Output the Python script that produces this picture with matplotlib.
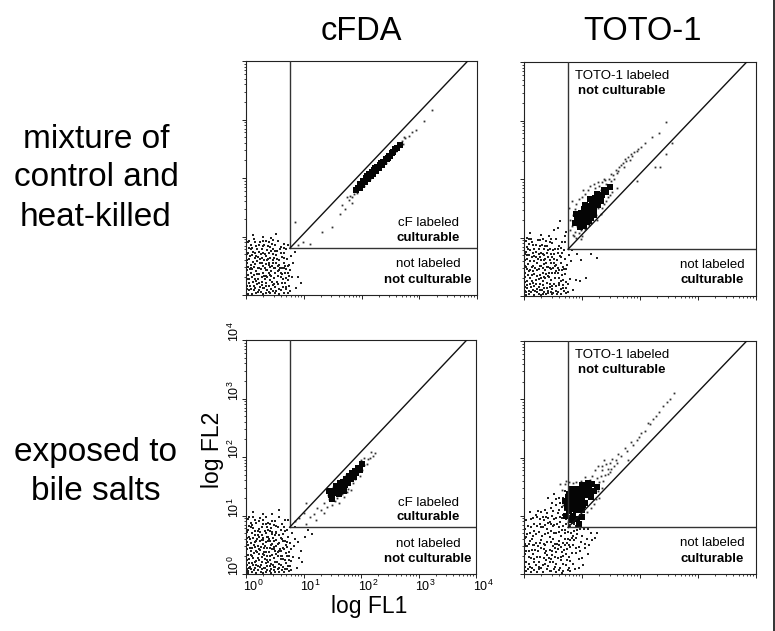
import matplotlib
matplotlib.use("Agg")
import matplotlib.pyplot as plt
import numpy as np
from matplotlib.ticker import LogLocator, NullFormatter
from matplotlib.transforms import ScaledTranslation

plt.rcParams['font.family'] = ['Liberation Sans', 'DejaVu Sans']
plt.rcParams['mathtext.fontset'] = 'custom'
plt.rcParams['mathtext.rm'] = 'Liberation Sans'
plt.rcParams['mathtext.default'] = 'rm'

W, H = 775, 631

# All scatter values are log10(fluorescence).
gate_x, gate_y = 0.76, 0.80
diag_end_x, diag_end_y = 3.84, 4.0

cloud_a = [(.05,.08),(.12,.22),(.03,.35),(.2,.05),(.18,.41),(.08,.52),(.27,.17),(.31,.33),(.15,.63),(.04,.72),
(.24,.55),(.36,.08),(.41,.25),(.33,.47),(.09,.86),(.22,.74),(.44,.41),(.38,.62),(.5,.13),(.47,.55),
(.29,.83),(.55,.32),(.52,.69),(.13,.96),(.6,.08),(.62,.46),(.36,.77),(.58,.6),(.68,.2),(.66,.72),
(.45,.88),(.72,.38),(.02,.15),(.07,.44),(.11,.3),(.16,.12),(.21,.28),(.26,.44),(.3,.02),(.34,.2),
(.39,.37),(.43,.1),(.48,.29),(.51,.46),(.56,.18),(.61,.3),(.65,.55),(.7,.1),(.75,.52),(.8,.3),
(.02,.6),(.06,.27),(.1,.68),(.14,.48),(.19,.58),(.23,.36),(.28,.64),(.32,.12),(.35,.53),(.4,.71),
(.42,.48),(.46,.17),(.49,.64),(.54,.76),(.57,.42),(.63,.65),(.67,.37),(.71,.62),(.74,.16),(.78,.66),
(.03,.9),(.08,.78),(.17,.84),(.25,.9),(.34,.93),(.41,.82),(.5,.85),(.56,.92),(.61,.82),(.66,.88),
(.12,1.03),(.3,1.0),(.44,.98),(.52,1.04),(.72,.86),(.82,.55),(.86,.12),(.9,.3),(.84,.74),(.95,.2),
(.05,.2),(.09,.1),(.14,.35),(.17,.24),(.2,.47),(.24,.13),(.27,.3),(.3,.5),(.33,.27),(.37,.43),
(.4,.15),(.44,.33),(.47,.07),(.5,.38),(.53,.22),(.57,.52),(.6,.38),(.64,.13),(.68,.49),(.73,.25),
(.06,.62),(.11,.44),(.16,.72),(.21,.65),(.26,.7),(.31,.6),(.35,.67),(.39,.55),(.43,.75),(.48,.47),
(.03,.02),(.1,.02),(.18,.03),(.26,.05),(.34,.03),(.42,.04),(.5,.03),(.58,.02),(.65,.04),(.73,.04),
(.04,.48),(.13,.16),(.19,.36),(.28,.22),(.37,.3),(.46,.6),(.55,.5),(.64,.27),(.7,.45),(.77,.42),
(.01,.11),(.07,.16),(.13,.09),(.19,.19),(.23,.08),(.29,.12),(.35,.16),(.4,.05),(.45,.22),(.52,.06),
(.57,.11),(.63,.2),(.69,.14),(.76,.07),(.01,.27),(.08,.38),(.15,.27),(.22,.21),(.29,.38),(.35,.33),
(.42,.35),(.49,.18),(.55,.41),(.62,.36),(.69,.29),(.75,.33),(.01,.43),(.09,.46),(.16,.53),(.23,.47),
(.28,.55),(.34,.42),(.4,.52),(.45,.5),(.52,.55),(.59,.47),(.66,.46),(.72,.5),(.01,.55),(.07,.66),
(.12,.57),(.18,.66),(.24,.62),(.3,.72),(.36,.6),(.42,.64),(.47,.7),(.53,.62),(.6,.72),(.65,.64),
(.01,.7),(.06,.8),(.12,.74),(.19,.78),(.27,.78),(.33,.7),(.38,.84),(.46,.78),(.51,.76),(.59,.78),
(.05,.93),(.15,.91),(.22,.86),(.29,.92),(.39,.9),(.47,.94),(.65,.8),(.7,.78),(.1,.8),(.32,.85)]
sparse_a = [(.85,1.25),(1.31,1.08),(1.49,1.17),(1.1,.88),(1.66,1.54),(1.62,1.38),(1.72,1.47),(1.78,1.62),(1.83,1.58),(1.75,1.68),
(1.87,1.73),(1.8,1.7),(2.7,2.63),(2.76,2.68),(2.82,2.72),(2.88,2.78),(2.94,2.82),(3.08,2.97),(3.22,3.16),(.9,.85),(.98,.9),
(1.84,1.68),(1.88,1.82),(1.92,1.74),(1.96,1.88),(2.04,1.86),(2.08,2.05),(2.14,1.99),(2.2,2.14),(2.27,2.11),(2.36,2.31),(2.43,2.26),(2.5,2.45),(2.6,2.46),(2.68,2.6),(2.72,2.58),(2.74,2.7)]
core_a = [(1.9,1.8),(1.94,1.83),(1.97,1.9),(2.0,1.88),(2.03,1.95),(2.06,1.93),(2.08,2.0),(2.11,1.98),(2.13,2.06),(2.16,2.03),
(2.18,2.1),(2.2,2.07),(2.22,2.14),(2.25,2.12),(2.27,2.18),(2.3,2.17),(2.32,2.23),(2.35,2.22),(2.37,2.28),(2.39,2.27),
(2.42,2.33),(2.44,2.32),(2.47,2.38),(2.5,2.38),(2.52,2.43),(2.55,2.44),(2.58,2.49),(2.62,2.52),(2.66,2.57),(1.98,1.83),(2.1,2.03),(2.24,2.17),(2.34,2.26),(2.46,2.35)]

cloud_b = [(.04,.06),(.1,.2),(.02,.33),(.19,.08),(.16,.42),(.07,.55),(.25,.15),(.3,.31),(.13,.66),(.04,.76),
(.23,.56),(.35,.06),(.4,.23),(.32,.48),(.08,.89),(.21,.76),(.43,.4),(.37,.64),(.49,.12),(.46,.56),
(.28,.86),(.54,.3),(.51,.71),(.12,.98),(.59,.07),(.61,.45),(.35,.8),(.57,.62),(.67,.18),(.65,.74),
(.44,.92),(.71,.37),(.02,.16),(.06,.46),(.1,.31),(.15,.11),(.2,.27),(.25,.46),(.29,.02),(.33,.19),
(.38,.38),(.42,.09),(.47,.28),(.5,.48),(.55,.17),(.6,.31),(.64,.57),(.69,.09),(.74,.53),(.79,.29),
(.02,.62),(.05,.26),(.09,.7),(.13,.5),(.18,.6),(.22,.35),(.27,.67),(.31,.11),(.34,.55),(.39,.73),
(.41,.5),(.45,.16),(.48,.66),(.53,.8),(.56,.43),(.62,.68),(.66,.36),(.7,.64),(.73,.14),(.77,.7),
(.03,.94),(.07,.8),(.16,.87),(.24,.95),(.33,.98),(.4,.86),(.49,.9),(.55,.98),(.6,.86),(.65,.93),
(.11,1.08),(.29,1.05),(.43,1.03),(.51,1.12),(.71,.92),(.81,.6),(.85,.1),(.89,.27),(.83,.78),(.96,.25),
(.05,.18),(.08,.09),(.13,.36),(.16,.23),(.19,.48),(.23,.12),(.26,.29),(.29,.52),(.32,.26),(.36,.44),
(.39,.14),(.43,.32),(.46,.06),(.49,.39),(.52,.21),(.56,.53),(.59,.39),(.63,.12),(.67,.5),(.72,.24),
(.05,.64),(.1,.45),(.15,.74),(.2,.67),(.25,.72),(.3,.62),(.34,.7),(.38,.56),(.42,.78),(.47,.47),
(.03,.02),(.09,.03),(.17,.02),(.25,.04),(.33,.03),(.41,.05),(.49,.03),(.57,.04),(.64,.03),(.72,.05),
(.04,.5),(.12,.15),(.18,.37),(.27,.21),(.36,.3),(.45,.62),(.54,.51),(.63,.26),(.69,.46),(.92,.72),
(.58,1.16),(.7,1.02),(.62,1.28),(.73,1.1),(.98,.62),(1.07,.3),(1.15,.72),(1.25,.65),
(.01,.09),(.06,.13),(.12,.07),(.18,.17),(.22,.07),(.28,.1),(.34,.14),(.38,.04),(.44,.21),(.5,.05),
(.55,.09),(.61,.19),(.68,.13),(.75,.06),(.01,.24),(.07,.36),(.14,.26),(.21,.2),(.28,.36),(.34,.32),
(.41,.34),(.48,.17),(.54,.4),(.6,.22),(.68,.28),(.76,.2),(.01,.4),(.09,.42),(.15,.52),(.22,.44),
(.27,.52),(.33,.4),(.39,.5),(.44,.48),(.51,.56),(.58,.48),(.65,.44),(.72,.46),(.01,.52),(.06,.7),
(.11,.6),(.17,.68),(.24,.64),(.29,.74),(.35,.61),(.41,.66),(.46,.72),(.52,.64),(.59,.74),(.64,.66),
(.01,.72),(.05,.84),(.11,.78),(.18,.8),(.26,.8),(.32,.72),(.37,.86),(.45,.8),(.5,.78),(.58,.8),
(.05,1.0),(.14,.92),(.21,.88),(.28,.96),(.38,.94),(.47,.98),(.64,.82),(.69,.78),(.09,.98),(.31,.88)]
sparse_b = [(.78,1.5),(.82,1.2),(.85,1.38),(.88,1.1),(.92,1.2),(.8,1.3),(.9,1.0),(.95,1.08),(1.0,1.02),(.84,1.05),
(.9,1.58),(.95,1.65),(1.0,1.7),(1.05,1.75),(1.1,1.82),(1.2,1.92),(1.28,1.95),(1.33,1.82),(1.38,2.0),(1.42,1.92),
(1.46,2.0),(1.5,2.08),(1.54,2.06),(1.58,2.16),(1.6,2.1),(1.64,2.2),(1.68,2.24),(1.72,2.2),(1.76,2.3),(1.8,2.38),
(1.84,2.42),(1.9,2.46),(1.96,2.52),(2.02,2.55),(2.08,2.62),(2.2,2.72),(2.44,2.98),(2.33,2.78),(2.55,2.62),(2.44,2.42),
(2.35,2.2),(2.25,2.2),(1.95,1.97),(1.6,1.85),(1.28,1.5),(1.38,1.58),(1.45,1.7),(1.52,1.78),
(.82,1.62),(.88,1.48),(1.02,1.82),(1.14,1.88),(1.22,1.84),(1.3,1.88),(1.35,1.95),(1.4,1.98),(1.44,1.88),(1.5,1.96),
(1.56,2.0),(1.62,2.14),(1.7,2.28),(1.74,2.34),(1.82,2.32),(1.86,2.4),(1.94,2.48),(.98,1.12),(1.06,1.14),(1.12,1.22),(1.24,1.38),(1.34,1.5),(1.42,1.62),
(1.48,1.72),(1.32,1.4),(1.26,1.3),(1.15,1.24),(.8,1.12),(.86,1.02),(.98,.98)]
core_b = [(.95,1.32),(1.0,1.3),(1.05,1.38),(1.1,1.36),(.98,1.42),(1.03,1.48),(1.08,1.46),(1.13,1.44),(1.18,1.5),(1.12,1.54),
(1.18,1.6),(1.23,1.58),(1.28,1.65),(1.22,1.68),(1.3,1.72),(1.35,1.72),(1.16,1.42),(1.21,1.48),(1.27,1.55),(1.33,1.62),
(1.06,1.56),(1.0,1.22),(1.08,1.26),(1.15,1.34),(.9,1.4),(.92,1.3),(1.14,1.66),(1.25,1.74),(1.42,1.78),(1.38,1.82),(1.48,1.87),
(1.2,1.38),(.88,1.25),(.96,1.18),(1.04,1.2),(1.02,1.4),(1.07,1.33),(1.1,1.42),(1.14,1.5),(1.08,1.53),(1.2,1.55),(1.25,1.62),(.94,1.26),(1.12,1.28)]

cloud_c = [(.04,.05),(.11,.18),(.03,.32),(.2,.06),(.17,.4),(.08,.53),(.26,.16),(.31,.32),(.15,.66),(.04,.75),
(.24,.56),(.37,.07),(.42,.24),(.33,.48),(.09,.88),(.22,.77),(.45,.42),(.39,.64),(.51,.12),(.48,.56),
(.29,.85),(.56,.3),(.53,.7),(.13,.97),(.62,.07),(.64,.45),(.36,.8),(.6,.62),(.7,.18),(.68,.73),
(.46,.9),(.74,.37),(.02,.15),(.07,.45),(.11,.3),(.16,.11),(.21,.27),(.26,.46),(.3,.02),(.34,.19),
(.4,.38),(.44,.09),(.49,.28),(.52,.48),(.58,.17),(.63,.31),(.67,.57),(.72,.09),(.77,.53),(.82,.29),
(.02,.62),(.06,.26),(.1,.7),(.14,.5),(.19,.6),(.23,.35),(.28,.67),(.32,.11),(.35,.55),(.41,.73),
(.43,.5),(.47,.16),(.5,.66),(.55,.8),(.59,.43),(.65,.68),(.69,.36),(.73,.64),(.76,.14),(.8,.7),
(.03,.94),(.08,.8),(.17,.87),(.25,.95),(.34,.98),(.42,.86),(.51,.9),(.57,.97),(.63,.86),(.68,.93),
(.12,1.06),(.3,1.03),(.45,1.02),(.58,1.1),(.73,.92),(.85,.6),(.88,.1),(.92,.27),(.86,.8),(.98,.2),
(.05,.18),(.09,.09),(.14,.36),(.17,.23),(.2,.48),(.24,.12),(.27,.29),(.3,.52),(.33,.26),(.37,.44),
(.41,.14),(.45,.32),(.48,.06),(.51,.39),(.54,.21),(.58,.53),(.61,.39),(.65,.12),(.69,.5),(.75,.24),
(.05,.64),(.1,.45),(.15,.74),(.2,.67),(.25,.72),(.3,.62),(.34,.7),(.39,.56),(.44,.78),(.49,.47),
(.03,.02),(.1,.03),(.18,.02),(.26,.04),(.34,.03),(.42,.05),(.5,.03),(.58,.04),(.66,.03),(.74,.05),
(.04,.5),(.13,.15),(.19,.37),(.28,.21),(.37,.3),(.47,.62),(.56,.51),(.65,.26),(.71,.46),(.79,.42),
(.07,.12),(.12,.27),(.15,.55),(.18,.15),(.22,.43),(.27,.58),(.32,.38),(.36,.14),(.4,.6),(.44,.17),
(.48,.43),(.53,.35),(.57,.1),(.6,.25),(.66,.42),(.71,.3),(.78,.22),(.83,.48),(.9,.55),(.95,.4),(1.02,.63),(1.08,.75),(1.15,.68),
(.01,.08),(.06,.1),(.14,.06),(.21,.13),(.28,.08),(.33,.1),(.38,.2),(.43,.02),(.49,.12),(.55,.08),
(.61,.16),(.67,.09),(.73,.14),(.79,.07),(.01,.24),(.08,.33),(.15,.2),(.22,.24),(.29,.34),(.36,.24),
(.42,.31),(.5,.21),(.55,.37),(.61,.31),(.68,.24),(.74,.3),(.01,.42),(.09,.4),(.16,.46),(.24,.41),
(.31,.44),(.35,.37),(.42,.44),(.46,.52),(.52,.58),(.58,.4),(.64,.56),(.72,.54),(.01,.55),(.07,.6),
(.12,.62),(.18,.56),(.23,.64),(.29,.58),(.36,.63),(.42,.56),(.46,.68),(.52,.72),(.57,.66),(.63,.6),
(.01,.72),(.06,.82),(.13,.78),(.2,.74),(.27,.8),(.33,.74),(.38,.76),(.45,.72),(.53,.82),(.6,.76),
(.05,.98),(.15,.92),(.22,.9),(.29,.92),(.38,.88),(.48,.84),(.66,.8),(.71,.76),(.1,.84),(.34,.86)]
sparse_c = [(.85,.9),(.92,.95),(1.05,.85),(1.0,1.05),(1.12,.98),(1.18,1.02),(1.24,1.12),(1.3,1.1),(1.22,.92),(1.36,1.22),
(1.4,1.14),(1.45,1.28),(1.5,1.18),(1.55,1.25),(1.35,1.05),(1.42,1.35),(1.62,1.22),(1.7,1.32),(1.75,1.4),(1.82,1.44),
(1.95,1.75),(2.02,1.78),(2.05,1.86),(2.1,1.88),(2.12,1.96),(2.16,1.98),(2.18,2.09),(2.2,2.02),(2.24,2.06),(1.98,1.68),(1.05,1.22),
(1.45,1.42),(1.52,1.48),(1.58,1.3),(1.6,1.56),(1.67,1.36),(1.74,1.7),(1.78,1.46),(1.86,1.55),(1.9,1.62),(1.92,1.84),(2.0,1.95),(2.06,1.98),(1.68,1.62)]
core_c = [(1.48,1.35),(1.53,1.42),(1.5,1.28),(1.57,1.38),(1.6,1.45),(1.56,1.5),(1.63,1.55),(1.66,1.48),(1.69,1.58),(1.72,1.52),
(1.74,1.62),(1.77,1.56),(1.79,1.68),(1.82,1.62),(1.84,1.72),(1.87,1.66),(1.89,1.76),(1.92,1.72),(1.95,1.82),(1.98,1.78),(2.02,1.88),(1.7,1.42),(1.45,1.42),(1.62,1.36)]

cloud_d = [(.04,.05),(.12,.03),(.22,.04),(.33,.03),(.45,.05),(.55,.03),(.66,.02),(.8,.05),(.1,.12),(.2,.15),
(.03,.2),(.3,.1),(.42,.13),(.5,.2),(.62,.11),(.72,.16),(.85,.18),(.95,.1),(.08,.3),(.18,.26),
(.28,.3),(.38,.24),(.48,.33),(.58,.27),(.68,.31),(.78,.3),(.9,.36),(1.0,.28),(.04,.4),(.14,.42),
(.24,.4),(.34,.43),(.44,.41),(.54,.44),(.64,.46),(.74,.43),(.84,.5),(.94,.47),(1.06,.44),(.02,.52),
(.1,.56),(.2,.54),(.3,.58),(.4,.55),(.5,.6),(.6,.57),(.7,.6),(.8,.58),(.9,.62),(1.0,.66),
(1.08,.6),(1.16,.7),(.06,.68),(.16,.66),(.26,.72),(.36,.68),(.46,.74),(.56,.71),(.66,.76),(.76,.72),
(.86,.74),(.96,.77),(1.1,.78),(1.22,.62),(.02,.78),(.12,.8),(.22,.82),(.32,.8),(.42,.87),(.52,.84),
(.62,.9),(.72,.86),(.82,.88),(.94,.92),(.04,.92),(.16,.96),(.28,.94),(.38,.98),(.48,1.0),(.58,1.04),
(.68,1.02),(.76,1.08),(.1,1.06),(.24,1.08),(.36,1.1),(.46,1.14),(.56,1.18),(.66,1.15),(.74,1.22),(.42,1.3),
(.52,1.38),(.6,1.3),(.7,1.42),(.08,.18),(.16,.34),(.26,.2),(.36,.36),(.46,.26),(.56,.38),(.66,.38),
(.06,.48),(.13,.6),(.24,.48),(.34,.52),(.44,.63),(.54,.52),(.64,.66),(.74,.54),(.84,.66),(.18,.74),
(.3,.8),(.4,.78),(.5,.82),(.6,.8),(.7,.7),(.8,.8),(.9,.82),(.35,.92),(.45,.9),(.55,.96),
(.65,.96),(.75,.98),(.14,.1),(.26,.08),(.36,.18),(.46,.06),(.4,.32),(.5,.48),(.6,.5),(.7,.5),
(.78,.5),(.86,.58),(.98,.55),(1.05,.52),(1.12,.5),(1.18,.58),(1.26,.7),(1.02,.16),(.88,.08),(.74,.24),
(.64,.24),(.54,.12),(.68,.06),(.77,.1),(1.1,.35),(.95,.25),(.04,.64),(.15,.5),(.85,.95),(.85,1.02),
(.01,.12),(.07,.08),(.17,.07),(.25,.12),(.39,.09),(.51,.09),(.6,.07),(.75,.07),(.18,.2),(.33,.16),
(.44,.2),(.56,.17),(.67,.17),(.8,.22),(.12,.28),(.23,.3),(.34,.27),(.43,.28),(.54,.3),(.63,.3),
(.73,.34),(.83,.36),(.97,.4),(.01,.34),(.09,.39),(.19,.42),(.29,.45),(.38,.4),(.49,.4),(.59,.43),
(.69,.42),(.79,.46),(.89,.44),(.01,.48),(.08,.52),(.18,.5),(.27,.54),(.37,.5),(.47,.55),(.57,.52),
(.67,.54),(.75,.6),(.83,.62),(.92,.68),(.01,.62),(.11,.7),(.21,.68),(.31,.66),(.41,.7),(.51,.7),
(.61,.72),(.71,.76),(.81,.7),(.91,.75),(1.03,.78),(.07,.82),(.17,.86),(.27,.86),(.37,.84),(.47,.86),
(.57,.86),(.67,.82),(.77,.84),(.87,.86),(.97,.86),(.12,.94),(.22,.98),(.32,.98),(.42,.96),(.52,.94),
(.62,.98),(.72,.94),(.8,1.0),(.2,1.02),(.3,1.06),(.4,1.04),(.5,1.08),(.6,1.1),(.7,1.1),(.48,1.22),(.62,1.22),(.68,1.3),(.56,1.28)]
sparse_d = [(1.35,1.78),(1.42,1.88),(1.48,1.9),(1.52,1.98),(1.58,1.96),(1.62,2.06),(1.68,2.02),(1.74,2.16),(1.78,2.12),(1.84,2.26),
(1.88,2.22),(1.94,2.3),(1.98,2.36),(2.02,2.42),(2.08,2.45),(2.13,2.6),(2.18,2.58),(2.22,2.66),(2.27,2.72),(2.33,2.78),
(2.4,2.88),(2.47,2.96),(2.52,3.0),(2.58,3.1),(1.8,1.95),(1.3,1.58),(1.4,1.7),(1.5,1.8),(1.38,1.95),(1.45,1.72),
(1.55,1.85),(1.28,1.85),(1.22,1.78),(1.25,1.65),(1.32,1.68),(.72,1.6),(.62,1.55),
(.75,.9),(.8,.98),(.88,.96),(.95,1.0),(1.02,1.02),(1.08,1.06),(1.15,1.14),(1.2,1.2),(1.24,1.28),(1.28,1.42),(1.3,1.3),(1.34,1.48),(.7,1.55),(.72,1.38),(.65,1.45),(.68,1.18),
(.78,1.58),(.84,1.56),(.9,1.58),(.98,1.6),(1.06,1.66),(1.14,1.62),(1.18,1.68),(1.36,1.6),(1.44,1.8),(1.6,1.9),(1.48,1.75),(1.35,1.85)]
core_d = [(.72,1.0),(.78,1.08),(.85,1.0),(.9,1.1),(.8,1.2),(.88,1.22),(.95,1.18),(1.0,1.1),(.76,1.32),(.84,1.35),
(.92,1.32),(1.0,1.28),(1.06,1.22),(.74,1.15),(1.08,1.35),(1.15,1.32),(1.12,1.45),(1.05,1.42),(.98,1.42),(.9,1.46),
(.82,1.46),(1.2,1.42),(1.18,1.54),(1.1,1.56),(1.25,1.5),(1.0,1.52),(.92,.95),(.82,.92),(1.0,.98),(.7,1.25),(.95,.86),
(.85,1.12),(.92,1.24),(.97,1.35),(1.03,1.35),(.82,1.28),(1.12,1.38),(1.02,1.18),(1.08,1.48),(.88,1.4),(.78,1.38)]

panels = [
    dict(box=(246, 61, 477, 295), cloud=cloud_a, sparse=sparse_a, core=core_a, labels=False),
    dict(box=(524, 62, 756, 296), cloud=cloud_b, sparse=sparse_b, core=core_b, labels=False),
    dict(box=(246, 340, 476, 574), cloud=cloud_c, sparse=sparse_c, core=core_c, labels=True),
    dict(box=(524, 341, 756, 574), cloud=cloud_d, sparse=sparse_d, core=core_d, labels=False),
]

fig = plt.figure(figsize=(W / 100, H / 100), dpi=100, facecolor='white')


def px_text(x, y, s, **kw):
    kw.setdefault('ha', 'center')
    kw.setdefault('va', 'center')
    fig.text(x / W, 1 - y / H, s, **kw)


for p in panels:
    l, t, r, b = p['box']
    ax = fig.add_axes([l / W, 1 - b / H, (r - l) / W, (b - t) / H])
    ax.set_xscale('log')
    ax.set_yscale('log')
    ax.set_xlim(1, 1e4)
    ax.set_ylim(1, 1e4)
    for key, ms, col in (('cloud', 1.5, '#222222'), ('sparse', 1.3, '#333333'), ('core', 4.2, '#050505')):
        arr = np.array(p[key])
        ax.plot(10 ** arr[:, 0], 10 ** arr[:, 1], ls='none', marker='s', ms=ms, mew=0, color=col, zorder=2)
    gx, gy = 10 ** gate_x, 10 ** gate_y
    ax.plot([gx, gx], [gy, 1e4], color='#333333', lw=1.0, zorder=3)
    ax.plot([gx, 1e4], [gy, gy], color='#333333', lw=1.0, zorder=3)
    ax.plot([gx, 10 ** diag_end_x], [gy, 10 ** diag_end_y], color='#111111', lw=1.0, zorder=3)
    for s in ax.spines.values():
        s.set_linewidth(0.8)
        s.set_color('#222222')
    ax.set_xticks([1, 10, 100, 1000, 10000])
    ax.set_yticks([1, 10, 100, 1000, 10000])
    for axis in (ax.xaxis, ax.yaxis):
        axis.set_minor_locator(LogLocator(base=10, subs=range(2, 10), numticks=20))
        axis.set_minor_formatter(NullFormatter())
    ax.tick_params(which='major', length=2.6, width=0.7, color='#222222', labelsize=9, pad=0.5)
    ax.tick_params(which='minor', length=1.6, width=0.6, color='#222222')
    ax.tick_params(labelbottom=p['labels'], labelleft=p['labels'])
    if p['labels']:
        fig.canvas.draw()
        shift_x = ScaledTranslation(7 / 100, 0, fig.dpi_scale_trans)
        shift_y = ScaledTranslation(0, 8 / 100, fig.dpi_scale_trans)
        for lab in ax.get_xticklabels():
            lab.set_transform(lab.get_transform() + shift_x)
        for lab in ax.get_yticklabels():
            lab.set_rotation(90)
            lab.set_va('center')
            lab.set_transform(lab.get_transform() + shift_y)

px_text(361, 32, 'cFDA', fontsize=23.5)
px_text(642, 32, 'TOTO-1', fontsize=23.5)
for y, s in ((140, 'mixture of'), (178, 'control and'), (217, 'heat-killed'), (453, 'exposed to'), (491, 'bile salts')):
    px_text(96, y, s, fontsize=24)
px_text(369, 607, 'log FL1', fontsize=16.5)
px_text(212, 450, 'log FL2', fontsize=16.5, rotation=90)

small = [
    (428, 223, 'cF labeled', 'normal'), (428, 238, 'culturable', 'bold'),
    (428, 264, 'not labeled', 'normal'), (428, 280, 'not culturable', 'bold'),
    (622, 76, 'TOTO-1 labeled', 'normal'), (622, 91, 'not culturable', 'bold'),
    (712, 265, 'not labeled', 'normal'), (712, 280, 'culturable', 'bold'),
    (428, 503, 'cF labeled', 'normal'), (428, 517, 'culturable', 'bold'),
    (428, 544, 'not labeled', 'normal'), (428, 559, 'not culturable', 'bold'),
    (622, 355, 'TOTO-1 labeled', 'normal'), (622, 370, 'not culturable', 'bold'),
    (712, 543, 'not labeled', 'normal'), (712, 559, 'culturable', 'bold'),
]
for x, y, s, w in small:
    px_text(x, y, s, fontsize=9.5, fontweight=w)

# Dark scan edge at the right of the page
fig.add_artist(plt.Line2D([774 / W, 774 / W], [0, 1], color='#111111', lw=1.2))

fig.savefig('out.png', dpi=100, facecolor='white')
